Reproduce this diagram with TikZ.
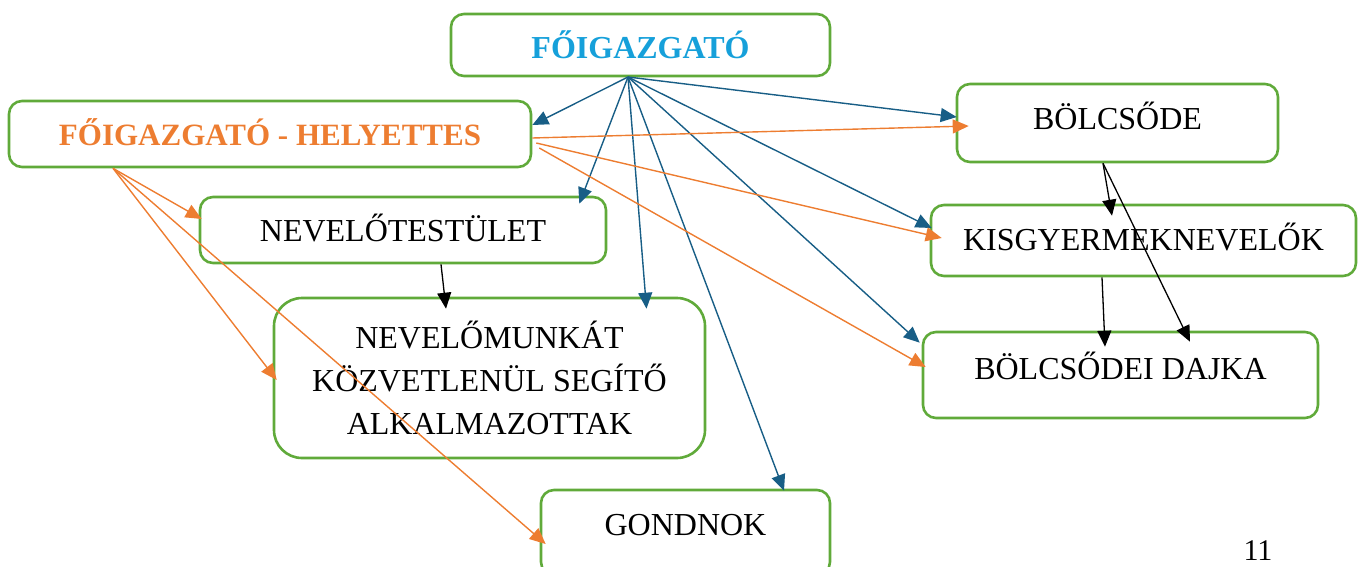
\documentclass[tikz,border=0pt]{standalone}
\usepackage{fontspec}
\setmainfont{Liberation Serif}
\usetikzlibrary{arrows.meta}
\definecolor{boxgreen}{RGB}{96,170,58}
\definecolor{arrowblue}{RGB}{24,94,134}
\definecolor{arroworange}{RGB}{237,125,49}
\definecolor{titleblue}{RGB}{22,160,218}
\newcommand\lifttext[2]{\raisebox{#1}[\height][\depth]{#2}}

\begin{document}
\begin{tikzpicture}[x=1pt,y=1pt,yscale=-1,xscale=1,
    box/.style={draw=boxgreen,line width=2.6pt,rounded corners=13pt,inner sep=0pt,
      font=\fontsize{32}{43}\selectfont},
    bluearrow/.style={draw=arrowblue,line width=1.4pt,-{Triangle[length=16pt,width=14pt]}},
    orangearrow/.style={draw=arroworange,line width=1.4pt,-{Triangle[length=16pt,width=14pt]}},
    blackarrow/.style={draw=black,line width=1.3pt,-{Triangle[length=16pt,width=14pt]}}]
  \useasboundingbox (0,0) rectangle (1360,566);

  %Shape: Rounded Rect [boss]
  \node [box,minimum width=379pt,minimum height=62pt,text=titleblue,
    font=\fontsize{32}{40}\bfseries\selectfont] (boss) at (640.5,45) {FŐIGAZGATÓ};
  %Shape: Rounded Rect [deputy]
  \node [box,minimum width=522pt,minimum height=66pt,text=arroworange,
    font=\fontsize{31}{40}\bfseries\selectfont] (dep) at (270,134) {\lifttext{2pt}{FŐIGAZGATÓ - HELYETTES}};
  %Shape: Rounded Rect [nursery]
  \node [box,minimum width=321pt,minimum height=78pt] (bolcs) at (1117.5,123) {\lifttext{7pt}{BÖLCSŐDE}};
  %Shape: Rounded Rect [staff]
  \node [box,minimum width=406pt,minimum height=66pt] (nevtest) at (403,230) {\lifttext{2pt}{NEVELŐTESTÜLET}};
  %Shape: Rounded Rect [carers]
  \node [box,minimum width=425pt,minimum height=71pt] (kisgy) at (1143.5,240.5) {\lifttext{4pt}{KISGYERMEKNEVELŐK}};
  %Shape: Rounded Rect [helpers]
  \node [box,minimum width=431pt,minimum height=160pt,rounded corners=28pt,align=center]
    (segito) at (489.5,378) {NEVELŐMUNKÁT\\KÖZVETLENÜL SEGÍTŐ\\ALKALMAZOTTAK};
  %Shape: Rounded Rect [nannies]
  \node [box,minimum width=395pt,minimum height=86pt] (dajka) at (1120.5,375) {\lifttext{9pt}{BÖLCSŐDEI DAJKA}};
  %Shape: Rounded Rect [caretaker]
  \node [box,minimum width=289pt,minimum height=85pt] (gond) at (685.5,532.5) {\lifttext{7pt}{GONDNOK}};

  % Source points
  \coordinate (bsrc) at ([xshift=-12.5pt,yshift=32pt]boss.center);
  \coordinate (osrc) at ([xshift=-157pt]dep.south);

  %Straight Lines [blue]
  \draw [bluearrow] (bsrc) -- ([yshift=-9pt]dep.east);
  \draw [bluearrow] (bsrc) -- ([xshift=-28pt,yshift=8pt]nevtest.north east);
  \draw [bluearrow] (bsrc) -- ([xshift=157pt,yshift=12pt]segito.north);
  \draw [bluearrow] (bsrc) -- ([xshift=98.5pt,yshift=2pt]gond.north);
  \draw [bluearrow] (bsrc) -- ([xshift=1pt,yshift=-6pt]bolcs.west);
  \draw [bluearrow] (bsrc) -- ([xshift=2pt,yshift=-12.5pt]kisgy.west);
  \draw [bluearrow] (bsrc) -- ([xshift=-2pt,yshift=12pt]dajka.north west);

  %Straight Lines [orange]
  \draw [orangearrow] ([yshift=4pt]dep.east) -- ([xshift=13pt,yshift=3pt]bolcs.west);
  \draw [orangearrow] ([xshift=4pt,yshift=9pt]dep.east) -- ([xshift=12pt,yshift=-2.5pt]kisgy.west);
  \draw [orangearrow] ([xshift=7pt,yshift=14pt]dep.east) -- ([xshift=4pt,yshift=-8pt]dajka.west);
  \draw [orangearrow] (osrc) -- ([xshift=3pt,yshift=-11pt]nevtest.west);
  \draw [orangearrow] (osrc) -- ([xshift=4pt,yshift=2pt]segito.west);
  \draw [orangearrow] (osrc) -- ([xshift=6pt,yshift=11.5pt]gond.west);

  %Straight Lines [black]
  \draw [blackarrow] ([xshift=38pt]nevtest.south) -- ([xshift=-43.5pt,yshift=12pt]segito.north);
  \draw [blackarrow] ([xshift=-14.5pt]bolcs.south) -- ([xshift=-31.5pt,yshift=12pt]kisgy.north);
  \draw [blackarrow] ([xshift=-14.5pt]bolcs.south) -- ([xshift=69.5pt,yshift=11pt]dajka.north);
  \draw [blackarrow] ([xshift=-41.5pt]kisgy.south) -- ([xshift=-15.5pt,yshift=16pt]dajka.north);

  % Text Node
  \node [font=\fontsize{30}{36}\selectfont,inner sep=0pt] (page) at (1258,551) {11};
\end{tikzpicture}
\end{document}
